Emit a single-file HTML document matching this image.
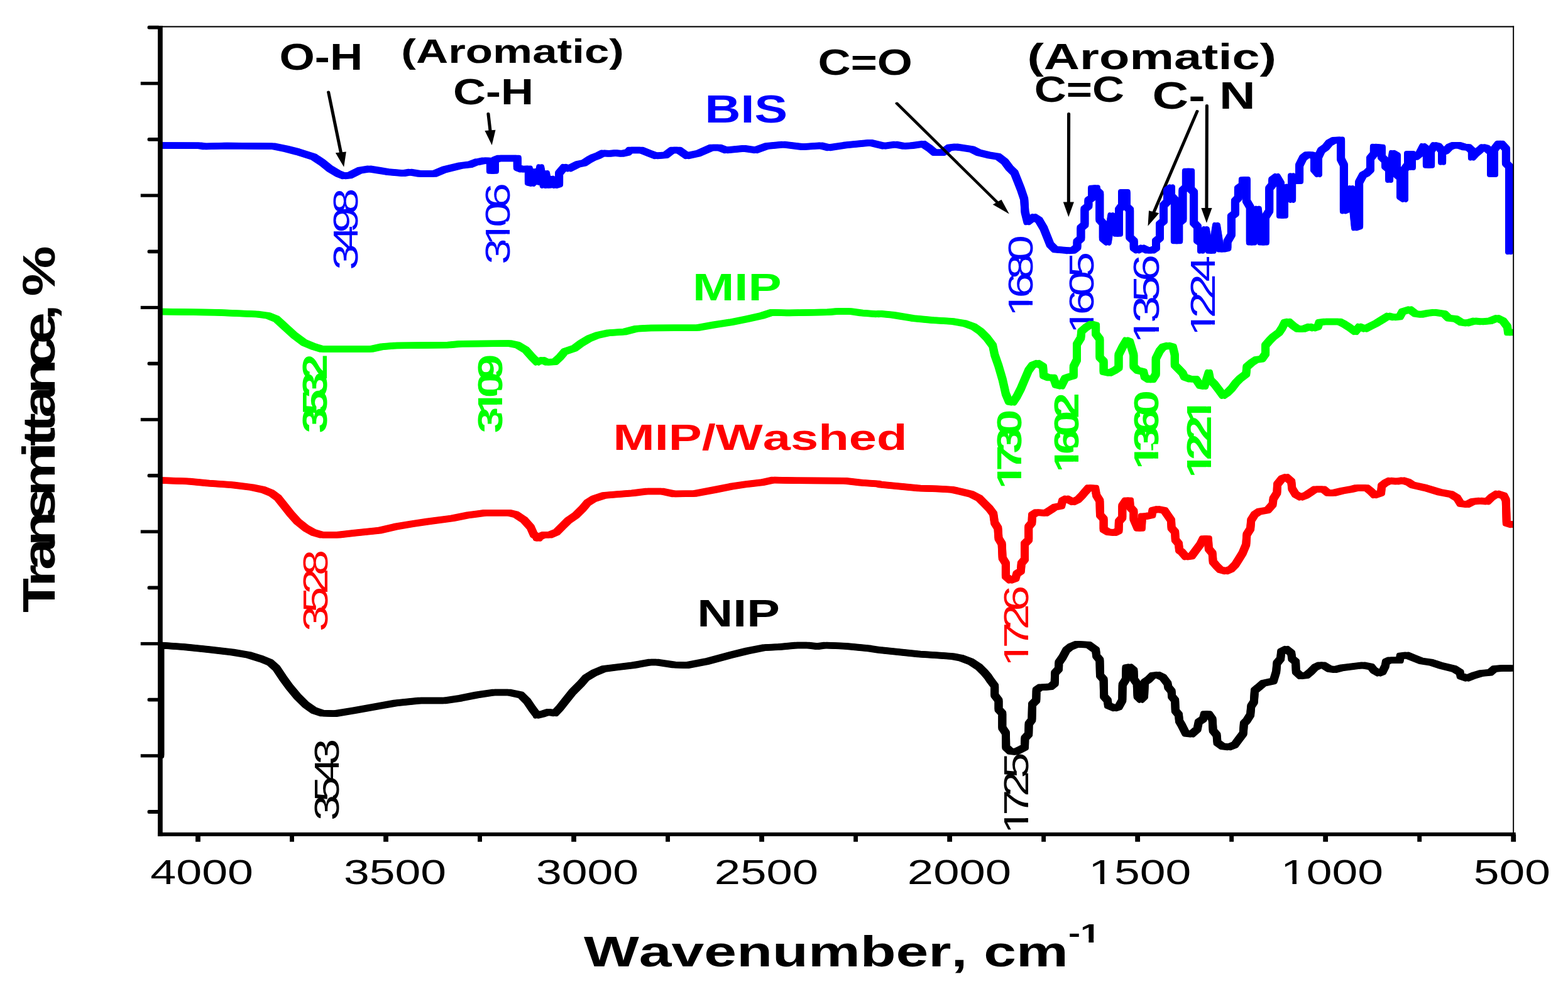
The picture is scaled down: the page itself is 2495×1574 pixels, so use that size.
<!DOCTYPE html>
<html lang="en"><head><meta charset="utf-8"><title>FTIR spectra</title>
<style>html,body{margin:0;padding:0;background:#fff}svg{display:block}text{font-family:"Liberation Sans", sans-serif;white-space:pre;font-kerning:none;font-variant-ligatures:none}</style></head>
<body>
<svg xmlns="http://www.w3.org/2000/svg" width="2495" height="1574" viewBox="0 0 2495 1574">
<rect width="2495" height="1574" fill="#fff"/>
<g id="labels" font-size="100">
<text transform="matrix(0.7239 0 0 0.5858 444.5 110.61)" fill="#000" font-weight="bold">O-H</text>
<text transform="matrix(0.7094 0 0 0.5336 638.35 99.87)" fill="#000" font-weight="bold">(Aromatic)</text>
<text transform="matrix(0.721 0 0 0.5689 720.92 165.63)" fill="#000" font-weight="bold">C-H</text>
<text transform="matrix(0.7213 0 0 0.583 1301.61 118.52)" fill="#000" font-weight="bold">C=O</text>
<text transform="matrix(0.7931 0 0 0.5786 1634.43 109.94)" fill="#000" font-weight="bold">(Aromatic)</text>
<text transform="matrix(0.7061 0 0 0.5717 1645.78 161.53)" fill="#000" font-weight="bold">C=C</text>
<text transform="matrix(0.7983 0 0 0.6085 1833.61 172.59)" fill="#000" font-weight="bold">C- N</text>
<text transform="matrix(0.7897 0 0 0.6211 1121.54 195.48)" fill="#0000ff" font-weight="bold">BIS</text>
<text transform="matrix(0.7968 0 0 0.6087 1101.99 478.3)" fill="#00ff00" font-weight="bold">MIP</text>
<text transform="matrix(0.7946 0 0 0.5692 975.5 716.26)" fill="#ff0000" font-weight="bold">MIP/Washed</text>
<text transform="matrix(0.7896 0 0 0.6188 1109.34 997)" fill="#000" font-weight="bold">NIP</text>
<text transform="matrix(0.9313 0 0 0.6906 928.89 1538.28)" fill="#000" font-weight="bold">Wavenumber, cm</text>
<clipPath id="k1"><path clip-rule="evenodd" d="M-200,-200H2000V200H-200ZM38.1,-13.71H56.64V2.5H38.1ZM70.36,-13.71H87.63V2.5H70.36Z"/></clipPath><text transform="matrix(0.5718 0 0 0.4331 1699.97 1499.9)" fill="#000" font-weight="bold" clip-path="url(#k1)">-1</text>
<text transform="matrix(0.7366 0 0 0.5579 239.21 1406.76)" fill="#000">4000</text>
<text transform="matrix(0.7334 0 0 0.5579 547.01 1406.76)" fill="#000">3500</text>
<text transform="matrix(0.7334 0 0 0.5579 853.01 1406.76)" fill="#000">3000</text>
<text transform="matrix(0.7432 0 0 0.5579 1136.86 1406.76)" fill="#000">2500</text>
<text transform="matrix(0.7432 0 0 0.5579 1443.86 1406.76)" fill="#000">2000</text>
<clipPath id="k2"><path clip-rule="evenodd" d="M-200,-200H2000V200H-200ZM6.12,-10.97H25.15V2.5H6.12ZM33.98,-10.97H52.23V2.5H33.98Z"/></clipPath><text transform="matrix(0.7323 0 0 0.5579 1732.36 1406.76)" fill="#000" clip-path="url(#k2)">1500</text>
<clipPath id="k3"><path clip-rule="evenodd" d="M-200,-200H2000V200H-200ZM6.12,-10.97H25.15V2.5H6.12ZM33.98,-10.97H52.23V2.5H33.98Z"/></clipPath><text transform="matrix(0.7332 0 0 0.5579 2038.05 1406.76)" fill="#000" clip-path="url(#k3)">1000</text>
<text transform="matrix(0.7324 0 0 0.5579 2344.77 1406.76)" fill="#000">500</text>
<text transform="matrix(0 -0.7457 0.5565 0 568.66 429.84)" letter-spacing="-15.92" fill="#0000ff">3498</text>
<clipPath id="k4"><path clip-rule="evenodd" d="M-200,-200H2000V200H-200ZM45.94,-10.97H64.97V2.5H45.94ZM73.8,-10.97H92.05V2.5H73.8Z"/></clipPath><text transform="matrix(0 -0.7419 0.5537 0 810.56 420.73)" letter-spacing="-15.8" fill="#0000ff" clip-path="url(#k4)">3106</text>
<clipPath id="k5"><path clip-rule="evenodd" d="M-200,-200H2000V200H-200ZM6.12,-10.97H25.15V2.5H6.12ZM33.98,-10.97H52.23V2.5H33.98Z"/></clipPath><text transform="matrix(0 -0.74 0.5523 0 1643.46 504.12)" letter-spacing="-15.55" fill="#0000ff" clip-path="url(#k5)">1680</text>
<clipPath id="k6"><path clip-rule="evenodd" d="M-200,-200H2000V200H-200ZM6.12,-10.97H25.15V2.5H6.12ZM33.98,-10.97H52.23V2.5H33.98Z"/></clipPath><text transform="matrix(0 -0.7324 0.5466 0 1740.27 531.15)" letter-spacing="-14.89" fill="#0000ff" clip-path="url(#k6)">1605</text>
<clipPath id="k7"><path clip-rule="evenodd" d="M-200,-200H2000V200H-200ZM6.12,-10.97H25.15V2.5H6.12ZM33.98,-10.97H52.23V2.5H33.98Z"/></clipPath><text transform="matrix(0 -0.7779 0.5805 0 1844.43 547.18)" letter-spacing="-13.09" fill="#0000ff" clip-path="url(#k7)">1356</text>
<clipPath id="k8"><path clip-rule="evenodd" d="M-200,-200H2000V200H-200ZM6.12,-10.97H25.15V2.5H6.12ZM33.98,-10.97H43.72V2.5H33.98Z"/></clipPath><text transform="matrix(0 -0.7485 0.5585 0 1933 535.3)" letter-spacing="-16.93" fill="#0000ff" clip-path="url(#k8)">1224</text>
<text transform="matrix(0 -0.7404 0.5525 0 520.48 689.2)" letter-spacing="-17.62" fill="#00ff00" font-weight="bold">3532</text>
<clipPath id="k9"><path clip-rule="evenodd" d="M-200,-200H2000V200H-200ZM42.42,-13.71H60.96V2.5H42.42ZM74.68,-13.71H91.95V2.5H74.68Z"/></clipPath><text transform="matrix(0 -0.7442 0.5553 0 798.58 689.21)" letter-spacing="-18" fill="#00ff00" font-weight="bold" clip-path="url(#k9)">3109</text>
<clipPath id="k10"><path clip-rule="evenodd" d="M-200,-200H2000V200H-200ZM4.8,-13.71H23.34V2.5H4.8ZM37.06,-13.71H54.33V2.5H37.06Z"/></clipPath><text transform="matrix(0 -0.7404 0.5525 0 1625.48 778.26)" letter-spacing="-17.2" fill="#00ff00" font-weight="bold" clip-path="url(#k10)">1730</text>
<clipPath id="k11"><path clip-rule="evenodd" d="M-200,-200H2000V200H-200ZM4.8,-13.71H23.34V2.5H4.8ZM37.06,-13.71H54.33V2.5H37.06Z"/></clipPath><text transform="matrix(0 -0.7381 0.5508 0 1715.56 752.05)" letter-spacing="-16.75" fill="#00ff00" font-weight="bold" clip-path="url(#k11)">1602</text>
<clipPath id="k12"><path clip-rule="evenodd" d="M-200,-200H2000V200H-200ZM4.8,-13.71H23.34V2.5H4.8ZM37.06,-13.71H54.33V2.5H37.06Z"/></clipPath><text transform="matrix(0 -0.7423 0.5539 0 1842.58 747.08)" letter-spacing="-17.56" fill="#00ff00" font-weight="bold" clip-path="url(#k12)">1360</text>
<clipPath id="k13"><path clip-rule="evenodd" d="M-200,-200H2000V200H-200ZM4.8,-13.71H23.34V2.5H4.8ZM37.06,-13.71H41.45V2.5H37.06ZM127.57,-13.71H137.28V2.5H127.57ZM151,-13.71H168.27V2.5H151Z"/></clipPath><text transform="matrix(0 -0.7561 0.5643 0 1927.1 760.97)" letter-spacing="-17.64" fill="#00ff00" font-weight="bold" clip-path="url(#k13)">1221</text>
<text transform="matrix(0 -0.7419 0.5537 0 520.56 1004.93)" letter-spacing="-15.63" fill="#ff0000">3528</text>
<clipPath id="k14"><path clip-rule="evenodd" d="M-200,-200H2000V200H-200ZM6.12,-10.97H25.15V2.5H6.12ZM33.98,-10.97H52.23V2.5H33.98Z"/></clipPath><text transform="matrix(0 -0.7381 0.5508 0 1636.46 1061)" letter-spacing="-15.74" fill="#ff0000" clip-path="url(#k14)">1726</text>
<text transform="matrix(0 -0.7381 0.5508 0 539.46 1305.91)" letter-spacing="-15.38" fill="#000">3543</text>
<clipPath id="k15"><path clip-rule="evenodd" d="M-200,-200H2000V200H-200ZM6.12,-10.97H25.15V2.5H6.12ZM33.98,-10.97H52.23V2.5H33.98Z"/></clipPath><text transform="matrix(0 -0.7381 0.5508 0 1636.46 1327.2)" letter-spacing="-15.54" fill="#000" clip-path="url(#k15)">1725</text>
<text transform="matrix(0 -0.9017 0.726 0 87.04 975.01)" x="0 46.15 75.55 117.56 163.71 205.73 272.9 293.89 319.05 344.21 386.22 432.37 474.39 516.4 537.39 558.38" fill="#000" font-weight="bold">Transmittance, %</text>
</g>
<g stroke="#000" fill="#000" stroke-linecap="round" stroke-width="3.8" transform="scale(1.34 1)">
<line x1="390" y1="146.5" x2="405.06" y2="244.35"/><polygon stroke="none" points="408.36,265.8 398.43,243.35 411.08,241.4"/>
<line x1="579.78" y1="181" x2="582.23" y2="209.38"/><polygon stroke="none" points="584.1,231 575.68,207.94 588.44,206.84"/>
<line x1="1269.1" y1="181" x2="1268.91" y2="323.5"/><polygon stroke="none" points="1268.88,345.2 1262.51,321.49 1275.31,321.51"/>
<line x1="1421.64" y1="177" x2="1369.68" y2="339.14"/><polygon stroke="none" points="1363.06,359.8 1364.2,335.28 1376.39,339.18"/>
<line x1="1433.13" y1="168" x2="1432.8" y2="333.1"/><polygon stroke="none" points="1432.76,354.8 1426.41,331.09 1439.21,331.11"/>
</g>
<clipPath id="plot"><rect x="255" y="43" width="2153.5" height="1284"/></clipPath>
<defs>
<polyline id="c-black" points="254.8,1201.9 254.8,1026.9 291.9,1029.5 330.8,1033.4 369.7,1038 395.6,1042.4 416.4,1048.9 429.3,1054.1 439.7,1063.2 450.1,1078.8 460.4,1093 473.4,1108.6 486.4,1121.5 499.4,1130.6 512.3,1135 533.1,1135.8 564.2,1130.6 603.1,1123.6 629,1119 667.9,1115.1 706.8,1115.1 732.8,1111.2 758.7,1106 784.6,1102.1 810.6,1102.1 828.7,1106 839.1,1116.4 846.9,1128 854.7,1138.4 854.5,1138.4 864.8,1135.8 872.6,1133.2 883,1135 890.8,1126.7 901.1,1113.8 911.5,1100.8 924.5,1087.8 932.3,1078.8 945.2,1071 960.8,1064.5 981.5,1061.9 1007.5,1058.8 1033.4,1054.1 1046.4,1054.1 1072.3,1058 1093.1,1058.8 1124.2,1052.8 1163.1,1042.4 1189,1036 1215,1030.8 1240.9,1029.5 1266.8,1026.9 1285,1026.9 1300.5,1028.7 1313.5,1026.9 1344.6,1028.2 1383.5,1032.1 1400,1034.6 1431.1,1037.8 1462.3,1040.9 1493.4,1042.9 1514.2,1044.4 1528.7,1047.1 1545.3,1053.3 1557.8,1061.6 1566.1,1069.9 1572.3,1077.2 1576.5,1083.4 1582.7,1091.7 1582.7,1106.3 1589,1114.6 1589,1129.1 1594.8,1135.3 1594.8,1158.2 1600.4,1166.5 1600.8,1189.3 1607.6,1195.6 1615.9,1196.6 1624.3,1192.5 1630.5,1189.3 1630.9,1174.8 1636.7,1168.6 1637.1,1152 1641.9,1145.7 1642.5,1120.8 1648.8,1114.6 1649.2,1098 1655.4,1093.8 1661.6,1093.8 1672,1092.8 1678.2,1087.6 1678.7,1071 1684.5,1064.8 1684.9,1054.4 1690.7,1046.1 1696.9,1034.6 1703.2,1029.5 1713.5,1025.3 1732.2,1026.3 1743.6,1034.6 1744.7,1044 1749.9,1050.2 1750.5,1075.1 1756.1,1081.4 1756.7,1108.4 1762.3,1114.6 1763.4,1122.9 1773.8,1127 1780,1125 1785.8,1114.6 1786.2,1089.7 1791.4,1081.4 1792,1062.7 1797.6,1061.6 1803.9,1066.8 1804.5,1081.4 1809.1,1087.6 1810.1,1108.4 1815.3,1113.5 1820.5,1108.4 1821.5,1085.5 1827.7,1081.4 1834,1075.1 1842.3,1074.1 1850.6,1078.2 1857.8,1087.6 1858.9,1093.8 1864.1,1100 1864.7,1108.4 1869.7,1114.6 1870.3,1131.2 1875.5,1137.4 1876.5,1147.8 1880,1153.6 1886.9,1167.3 1896,1168.4 1905.1,1160.4 1907.4,1149 1914.3,1144.5 1916.5,1136.5 1923.4,1136.5 1929.1,1144.5 1930.2,1162.7 1936,1169.6 1937.1,1182.1 1945.1,1187.8 1955.4,1189 1964.5,1185.6 1971.4,1176.4 1978.2,1167.3 1979.4,1151.3 1983.9,1146.7 1989.6,1137.6 1990.8,1123.9 1995.3,1117 1996.5,1098.8 2002.2,1094.2 2010.2,1087.4 2026.2,1083.9 2030.7,1069.1 2031.9,1055.4 2037.6,1048.5 2038.7,1037.1 2046.7,1033 2054.7,1039.4 2055.9,1048.5 2061.6,1053.1 2062.3,1069.1 2069.6,1075.9 2078.7,1074.8 2085.6,1069.1 2092.4,1062.2 2099.3,1058.8 2106.1,1058.8 2115.3,1064.5 2124.4,1065.7 2135.8,1062.7 2158.7,1059.9 2168.9,1058.8 2181.5,1061.1 2186.1,1066.8 2194.1,1071.4 2199.8,1069.1 2204.3,1059.9 2205.5,1053.1 2211.2,1050.8 2227.2,1050.8 2228.3,1044 2238.6,1042.8 2250,1047.4 2261.4,1051.9 2277.4,1054.2 2291.1,1058.8 2314,1064.5 2323.1,1070.2 2324.2,1075.9 2334.5,1079.4 2345.9,1074.8 2357.4,1071.4 2371.1,1070.2 2377.9,1064.5 2389.3,1063.4 2405.3,1063.4"/>
<polyline id="c-red" points="255.6,764.4 299.7,766 330.8,769.1 369.7,771.7 400.8,775.6 419,779.5 431.9,784.7 442.3,792.4 452.7,805.4 463,818.4 473.4,830 486.4,840.4 499.4,847.7 512.3,851.3 538.3,851.3 564.2,848.2 603.1,844.3 629,838.3 655,833.9 680.9,830 719.8,824.9 745.7,819.7 771.7,816.3 810.6,816.3 820.9,818.9 833.9,827.5 844.3,839.1 849.5,850.8 857.3,856.5 854.5,856 864.8,851.3 875.2,851.3 885.6,846.9 896,836.5 903.7,828.8 916.7,819.7 927.1,809.3 934.9,800.2 945.2,793.7 960.8,788.6 981.5,786.7 1007.5,784.7 1028.2,782.1 1054.2,782.1 1072.3,786 1106,785.4 1137.2,779.5 1163.1,774.3 1189,770.4 1212.4,767.8 1230.5,763.9 1266.8,764.7 1344.6,765.2 1370.6,768.3 1396.5,769.9 1400,770.9 1420.8,772.9 1441.5,775 1462.3,777.1 1493.4,778.1 1514.2,779.2 1528.7,782.3 1545.3,786.4 1557.8,792.7 1566.1,801 1574.4,809.3 1580.6,817.6 1582.7,832.1 1587.9,840.4 1589,857 1594.1,865.3 1595.2,888.2 1600.4,896.5 1600.4,917.3 1607.6,923.5 1615.9,920.4 1618,913.1 1624.3,909 1625.3,896.5 1630.5,890.3 1630.5,865.3 1636.7,859.1 1636.7,838.4 1641.9,832.1 1642.5,819.7 1649.2,815.5 1663.7,816.6 1672,811.4 1678.2,807.2 1688.6,805.1 1690.7,796.8 1696.9,793.7 1707.3,798.9 1715.6,794.8 1721.8,788.5 1727,782.3 1732.2,776.5 1742.6,777.1 1744.7,788.5 1749.9,796.8 1750.5,819.7 1756.1,825.9 1756.1,842.5 1763.4,846.7 1773.8,847.7 1780,844.6 1780.4,830 1785.8,823.8 1785.8,805.1 1791.4,796.8 1797.6,796.8 1798.3,807.2 1803.9,813.4 1803.9,825.9 1810.1,840.4 1816.3,840.4 1817.4,821.7 1823.6,821.7 1832.9,819.7 1834,812.4 1842.3,810.3 1852.7,812.4 1857.8,819.7 1863.5,828 1864.1,840.4 1869.7,846.7 1870.3,859.1 1875.5,865.3 1876.5,875.7 1880,878.2 1886.9,886.2 1896,885 1902.8,875.9 1909.7,866.7 1914.3,857.6 1922.3,857.6 1923.4,873.6 1929.1,880.4 1930.2,894.1 1936,901 1941.7,906.7 1950.8,909 1958.8,905.6 1965.7,898.7 1971.4,889.6 1977.1,880.4 1982.8,866.7 1983.9,850.7 1989.6,841.6 1990.8,827.9 1996.5,818.8 2003.3,814.2 2017,811.9 2025,802.8 2026.2,793.6 2031.9,784.5 2032.6,770.8 2039.9,761.7 2046.7,759.4 2054.7,766.2 2055.9,777.7 2061.6,786.8 2069.6,791.4 2078.7,787.9 2085.6,783.4 2092.4,778.8 2106.1,778.8 2113,784.5 2122.1,784.5 2135.8,781.1 2149.5,778.8 2158.7,776.5 2174.6,776.5 2181.5,782.2 2187.2,787.9 2197.5,784.5 2198.6,773.1 2204.3,768.5 2211.2,765.1 2222.6,766.2 2231.7,764.6 2240.9,767.4 2247.7,771.9 2268.3,776.5 2291.1,783.4 2309.4,786.8 2318.5,792.5 2324.2,801.6 2334.5,802.8 2343.7,798.2 2355.1,797.1 2366.5,798.2 2373.4,791.4 2382.5,785.7 2392.8,789.1 2396.2,795.9 2397.3,832.5 2405.3,834.8"/>
<polyline id="c-green" points="255.6,496 343.7,497.3 408.6,499.9 426.7,502.4 439.7,507.6 455.3,521.9 468.2,533.6 483.8,545.2 499.4,551.7 512.3,555.6 590.1,555.6 608.3,551.7 629,549.9 714.6,549.1 732.8,547.3 810.6,546.5 823.5,549.1 836.5,556.9 846.9,568.6 854.7,576.4 854.5,575.8 863.5,573.2 870,576.4 883,575.8 890.8,568.6 898.6,559.5 914.1,554.3 924.5,546.5 937.5,538.8 950.4,533.6 968.6,529.7 994.5,527.9 1012.7,523.2 1033.4,521.9 1111.2,521.4 1137.2,516.7 1163.1,512.8 1189,507.6 1212.4,502.4 1227.9,497.3 1253.9,498 1318.7,496.7 1331.7,495.4 1352.4,495.4 1370.6,498 1396.5,499.9 1400,499.2 1420.8,501.3 1451.9,506.4 1483.1,509.6 1516.3,511.6 1535,514.8 1549.5,519.9 1559.9,527.2 1570.3,537.6 1579.6,550 1582.7,564.6 1588.5,581.2 1595.2,604 1600.4,626.9 1605.6,639.3 1611.8,640.4 1618,631 1624.3,618.6 1630.5,604 1636.7,589.5 1642.9,581.2 1651.2,578.1 1659.6,583.3 1660.6,597.8 1667.9,600.9 1676.2,600.9 1680.3,612.3 1688.6,614.4 1694.9,602 1701.1,599.9 1708.3,597.8 1708.3,583.3 1713.5,572.9 1713.5,548 1719.8,537.6 1720.8,527.2 1728.1,521 1736.4,515.8 1743.6,517.9 1743.6,531.4 1749.9,539.7 1749.9,568.7 1756.1,575 1756.1,591.6 1765.4,593.7 1773.8,589.5 1780,585.3 1780,564.6 1786.2,552.1 1792.4,541.7 1797.6,543.8 1803.9,564.6 1803.9,583.3 1810.1,589.5 1819.4,591.6 1821.5,599.9 1827.7,604 1834,604 1839.2,595.7 1839.2,570.8 1845.4,558.4 1850.6,552.1 1858.9,550 1866.2,552.1 1869.3,564.6 1869.3,581.2 1875.5,587.4 1881.7,593.7 1884.6,599.9 1893.7,603.3 1902.8,603.3 1909.7,613.6 1916.5,614.7 1923.4,593 1925.7,604.5 1932.5,611.3 1939.4,620.4 1946.2,629.6 1953.1,625 1959.9,618.2 1966.8,609 1973.6,602.2 1982.8,595.3 1983.9,583.9 1991.9,577 1998.8,572.5 2007.9,571.3 2013.6,563.3 2013.6,549.6 2020.5,541.6 2026.2,535.9 2035.3,529.1 2039.9,522.2 2044.5,513.1 2050.2,511.9 2058.2,518.8 2065,523.4 2074.1,523.4 2083.3,519.9 2090.1,522.2 2097,519.9 2099.3,513.1 2108.4,511.9 2131.2,511.9 2138.1,515.4 2147.2,521.1 2156.4,527.9 2163.2,519.9 2172.4,523.4 2181.5,518.8 2190.6,514.2 2199.8,508.5 2208.9,502.8 2218,505.1 2227.2,504 2231.7,496 2243.2,492.5 2252.3,499.4 2261.4,500.5 2272.9,498.2 2282,497.1 2298,499.4 2304.8,506.2 2316.3,507.4 2325.4,513.1 2334.5,514.2 2345.9,510.8 2357.4,511.9 2371.1,510.8 2382.5,506.2 2391.6,510.8 2398.5,519.9 2399.6,529.1 2405.3,529.1"/>
<polyline id="c-blue" points="255.6,231.4 317.8,231.7 325.6,233 359.3,231.9 434.5,232.7 455.3,236.9 473.4,241.5 499.4,249.8 512.3,258.4 525.3,268.8 538.3,276.5 547.3,279.9 556.4,279.1 572,271.3 587.5,268.8 603.1,271.3 616.1,273.4 642,275.8 652.4,273.9 667.9,276.5 691.3,276.5 706.8,270 732.8,263.6 748.3,261.8 758.7,257.6 760,257.9 770,255.7 780.4,255.9 780.4,271.6 787.4,271.6 787.4,254.4 793.9,252.1 823.3,252.1 823.3,266.8 829.8,269.3 841.4,268.8 841.4,290.3 846.7,291.6 850.2,273.3 854.7,289.3 859.7,266.5 865.1,294.6 868.6,276.3 871.6,294.6 874.6,294.3 877.6,284.8 883.6,294.6 889.6,292.8 889.6,275.8 894.6,269.8 898,266 905.5,268.3 919.5,261.4 929.4,259.4 937.4,254.1 944.4,250.4 952.4,247.4 959.3,243.7 969.3,244.4 979.3,243.5 989.2,244.6 999.2,242.4 1002.3,238.9 1020.4,238.9 1033.4,244.1 1043.8,248 1059.4,246.7 1069.7,238.9 1080.1,238.9 1093.1,248 1111.2,244.1 1132,235 1144.9,235 1155.3,238.9 1183.8,236.3 1202,238.9 1220.1,232.4 1246.1,229.9 1277.2,233.7 1305.7,231.7 1318.7,235 1344.6,231.1 1383.5,227.3 1385.9,227.3 1406.7,232.4 1424.8,229.9 1437.8,232.4 1450.8,231.7 1468.9,229.1 1479.3,236.3 1487.1,242.8 1500,242.8 1510.4,235 1520.8,233.7 1546.7,237.6 1557.1,242.8 1572.7,246.7 1588.2,249.3 1598.6,257.1 1606.4,267.5 1614.2,275.2 1619.4,288.2 1624.5,301.2 1629.7,316.7 1631,337.5 1634.9,353 1645.3,345.3 1653.1,350.4 1660.8,363.4 1666,376.4 1671.2,389.4 1679,397.1 1697.2,398.4 1700,399 1707.5,398.5 1714,393.5 1714,384.6 1719.9,379.6 1719.9,362.6 1725.9,357.7 1725.9,332.7 1731.9,327.8 1731.9,318.8 1737.6,314.8 1737.6,299.9 1744.4,299.6 1744.4,302.8 1749.8,307.8 1749.8,349.7 1755.3,355.7 1755.3,379.6 1762.3,385.4 1768.8,343.4 1776.7,371.6 1780.5,371.6 1780.5,333.7 1785.5,326.8 1785.5,306.2 1792.2,306.2 1792.4,328.8 1797.7,333.7 1797.7,377.6 1804.2,383.6 1804.2,394.5 1809.6,398.3 1817.6,394.5 1825.6,398.3 1833.6,398.3 1839.5,394.5 1839.5,383.6 1845.5,378.6 1845.5,356.7 1851.5,351.7 1851.5,326.8 1857.5,320.8 1857.5,302.8 1863.5,298.6 1863.5,311.8 1869.4,317.8 1869.4,382.9 1875.7,382.9 1875.7,354.7 1881.9,349.7 1881.9,302.8 1887.4,297.9 1887.4,273.1 1894.6,273.1 1894.6,300.8 1899.6,305.8 1899.6,354.7 1905.5,360.6 1905.5,382.6 1911.5,386.6 1911.5,398.5 1918.3,365.3 1924.3,398.5 1929.2,398.5 1935.5,359.1 1941.3,396.2 1947.1,396.2 1952.9,394.8 1953,384.6 1959.4,373.6 1959.4,344.2 1965.4,339.7 1965.4,319.8 1970.4,314.8 1970.4,299.8 1977.4,294.9 1977.4,286.4 1983.4,286.3 1983.4,319.8 1989.3,329.7 1989.3,385.3 1994.3,385.3 2001.3,332.9 2006.8,385.3 2013.3,385.3 2013.3,345.7 2019.7,335.7 2019.7,299.8 2024.7,293.9 2024.7,285.9 2031.2,281.3 2037.5,291.9 2037.5,342.5 2043.5,342.5 2043.5,299.8 2049.6,297.8 2055.6,317.6 2055.6,280.6 2061.6,287.7 2067.6,287.7 2067.6,263 2073.6,251 2079.5,246.5 2085.5,246.5 2091.5,248 2091.5,269.9 2097.5,276.7 2097.5,250 2102.6,239.2 2109.6,234.2 2115,227.6 2122.7,223.3 2133.6,222.8 2133.6,253.1 2138.4,262.5 2138.4,335.2 2143.8,333 2150.3,300.3 2156.5,362.1 2162.6,359.9 2162.6,290.1 2168.9,278.5 2174.5,275.7 2180.5,269.8 2180.5,251.8 2186.4,244.9 2186.4,234.1 2198.4,234.9 2198.4,249.8 2204.6,255.8 2204.6,264.8 2210.6,269.8 2210.6,285.7 2210.6,279.7 2216.3,244.1 2222.5,247.8 2222.5,277.7 2228.5,282.7 2228.5,312.6 2234.5,316.6 2234.5,269.8 2240.5,261.8 2240.5,245.2 2246.4,245.2 2246.4,265.8 2246.4,249.8 2252.7,249.6 2258.7,244.9 2264.7,233.3 2270.4,237.9 2270.4,262.6 2276.6,262.6 2276.6,239.9 2282.6,231.3 2288.6,232.9 2294.6,239.9 2294.6,257.6 2294.6,241.9 2300.6,239.9 2306.5,233.9 2312.5,231.3 2321.5,231.3 2329.5,233.9 2336.4,234.4 2342.4,239.9 2342.4,250.4 2348.4,243.9 2354.4,238.9 2359.4,234.4 2365.3,235.9 2372.5,241.9 2372.5,276.7 2377.5,276.7 2377.5,237.9 2384.5,229.1 2389.3,229.1 2396.4,236.9 2396.4,259.8 2401.5,264.8 2401.5,399.9"/>
</defs>
<g id="curves" clip-path="url(#plot)" fill="none" stroke-linejoin="round" stroke-linecap="round">
<g stroke="#000" stroke-width="8"><use href="#c-black" transform="translate(-2.5 -1.25)"/><use href="#c-black" transform="translate(2.5 -1.25)"/><use href="#c-black" transform="translate(-2.5 1.25)"/><use href="#c-black" transform="translate(2.5 1.25)"/><use href="#c-black" stroke-width="9.5"/></g>
<g stroke="#ff0000" stroke-width="8"><use href="#c-red" transform="translate(-2.5 -1.25)"/><use href="#c-red" transform="translate(2.5 -1.25)"/><use href="#c-red" transform="translate(-2.5 1.25)"/><use href="#c-red" transform="translate(2.5 1.25)"/><use href="#c-red" stroke-width="9.5"/></g>
<g stroke="#00ff00" stroke-width="8"><use href="#c-green" transform="translate(-2.5 -1.25)"/><use href="#c-green" transform="translate(2.5 -1.25)"/><use href="#c-green" transform="translate(-2.5 1.25)"/><use href="#c-green" transform="translate(2.5 1.25)"/><use href="#c-green" stroke-width="9.5"/></g>
<g stroke="#0000ff" stroke-width="8"><use href="#c-blue" transform="translate(-2.5 -1.25)"/><use href="#c-blue" transform="translate(2.5 -1.25)"/><use href="#c-blue" transform="translate(-2.5 1.25)"/><use href="#c-blue" transform="translate(2.5 1.25)"/><use href="#c-blue" stroke-width="9.5"/></g>
</g>
<g stroke="#000" fill="#000" stroke-linecap="round" stroke-width="3.8" transform="scale(1.34 1)">
<line x1="1064.93" y1="164.5" x2="1185.25" y2="323.3"/><polygon stroke="none" points="1198.36,340.6 1178.94,325.58 1189.15,317.85"/>
</g>
<g id="axes" fill="#000">
<rect x="251.1" y="41" width="7.7" height="1290"/>
<rect x="251.1" y="1324.8" width="2160.6" height="6"/>
<rect x="251.1" y="41.4" width="2158" height="2.1"/>
<rect x="2407.2" y="41.4" width="1.9" height="1290"/>
<rect x="234.6" y="40.7" width="20" height="5.8" rx="2.5"/><rect x="223.8" y="130.17" width="30" height="5.2"/><rect x="234.6" y="219.04" width="20" height="5.8" rx="2.5"/><rect x="223.8" y="308.51" width="30" height="5.2"/><rect x="234.6" y="397.39" width="20" height="5.8" rx="2.5"/><rect x="223.8" y="486.86" width="30" height="5.2"/><rect x="234.6" y="575.73" width="20" height="5.8" rx="2.5"/><rect x="223.8" y="665.2" width="30" height="5.2"/><rect x="234.6" y="754.07" width="20" height="5.8" rx="2.5"/><rect x="223.8" y="843.54" width="30" height="5.2"/><rect x="234.6" y="932.41" width="20" height="5.8" rx="2.5"/><rect x="223.8" y="1021.89" width="30" height="5.2"/><rect x="234.6" y="1110.76" width="20" height="5.8" rx="2.5"/><rect x="223.8" y="1200.23" width="30" height="5.2"/><rect x="234.6" y="1289.1" width="20" height="5.8" rx="2.5"/>
<rect x="311.1" y="1328" width="7.8" height="11.7"/><rect x="461.06" y="1328" width="6.9" height="11.7"/><rect x="610.13" y="1328" width="7.8" height="11.7"/><rect x="760.09" y="1328" width="6.9" height="11.7"/><rect x="909.16" y="1328" width="7.8" height="11.7"/><rect x="1059.12" y="1328" width="6.9" height="11.7"/><rect x="1208.19" y="1328" width="7.8" height="11.7"/><rect x="1358.15" y="1328" width="6.9" height="11.7"/><rect x="1507.21" y="1328" width="7.8" height="11.7"/><rect x="1657.18" y="1328" width="6.9" height="11.7"/><rect x="1806.24" y="1328" width="7.8" height="11.7"/><rect x="1956.21" y="1328" width="6.9" height="11.7"/><rect x="2105.27" y="1328" width="7.8" height="11.7"/><rect x="2255.24" y="1328" width="6.9" height="11.7"/><rect x="2404.3" y="1328" width="7.8" height="11.7"/>
</g>
</svg>
</body></html>
